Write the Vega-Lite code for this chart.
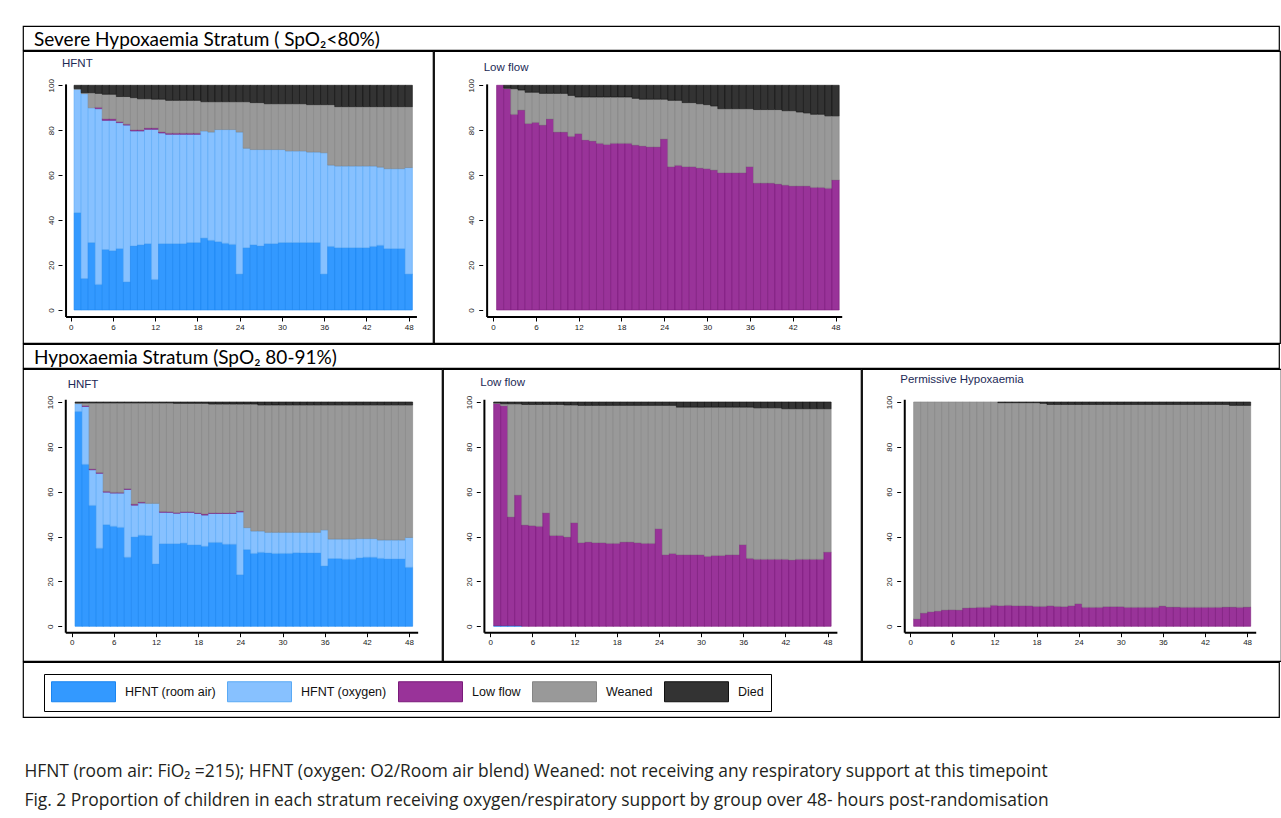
{
  "$schema": "https://vega.github.io/schema/vega-lite/v6.json",
  "padding": {"left": 22, "top": 25, "right": 3, "bottom": 0},
  "background": "white",
  "spacing": -2,
  "title": {
    "text": "HFNT (room air: FiO₂ =215); HFNT (oxygen: O2/Room air blend) Weaned: not receiving any respiratory support at this timepoint",
    "subtitle": "Fig. 2  Proportion of children in each stratum receiving oxygen/respiratory support by group over 48- hours post-randomisation",
    "orient": "bottom", "anchor": "start", "offset": 45, "dx": 2,
    "font": "Open Sans", "fontSize": 17.4, "fontWeight": "normal", "color": "#231f20",
    "subtitleFont": "Open Sans", "subtitleFontSize": 17.4, "subtitleColor": "#231f20", "subtitlePadding": 12
  },
  "datasets": {
    "p1": [
      {"h":1,"a":43.3,"b":54.9,"d":0.3,"e":1.5},
      {"h":2,"a":14,"b":82.3,"d":0.4,"e":3.3},
      {"h":3,"a":30,"b":60,"d":6.7,"e":3.3},
      {"h":4,"a":11.4,"b":78.2,"c":0.6,"d":6.2,"e":3.6},
      {"h":5,"a":26.9,"b":57.5,"c":0.7,"d":10.9,"e":4},
      {"h":6,"a":26.4,"b":58,"c":0.7,"d":10.9,"e":4},
      {"h":7,"a":27.3,"b":56.1,"c":0.4,"d":11.2,"e":5},
      {"h":8,"a":12.5,"b":69.8,"c":0.4,"d":12.3,"e":5},
      {"h":9,"a":28.5,"b":51.2,"c":0.5,"d":14.3,"e":5.5},
      {"h":10,"a":29,"b":50.7,"c":0.5,"d":13.8,"e":6},
      {"h":11,"a":29.5,"b":50.9,"c":0.6,"d":13,"e":6},
      {"h":12,"a":13.6,"b":66.8,"c":0.6,"d":12.8,"e":6.2},
      {"h":13,"a":29.5,"b":49.3,"c":0.5,"d":14.5,"e":6.2},
      {"h":14,"a":29.5,"b":48.7,"c":0.5,"d":14.6,"e":6.7},
      {"h":15,"a":29.5,"b":48.7,"c":0.5,"d":14.6,"e":6.7},
      {"h":16,"a":29.5,"b":48.7,"c":0.5,"d":14.6,"e":6.7},
      {"h":17,"a":30,"b":48.2,"c":0.5,"d":14.6,"e":6.7},
      {"h":18,"a":30,"b":48.2,"c":0.5,"d":14.6,"e":6.7},
      {"h":19,"a":32,"b":47.7,"d":13,"e":7.3},
      {"h":20,"a":31,"b":48.2,"d":13.5,"e":7.3},
      {"h":21,"a":30.4,"b":49.9,"d":12.4,"e":7.3},
      {"h":22,"a":29.7,"b":50.6,"d":12.4,"e":7.3},
      {"h":23,"a":29.2,"b":51.1,"d":12.4,"e":7.3},
      {"h":24,"a":16,"b":63.2,"d":13.5,"e":7.3},
      {"h":25,"a":27.7,"b":44.3,"d":20.7,"e":7.3},
      {"h":26,"a":29,"b":42.4,"d":20.9,"e":7.7},
      {"h":27,"a":28.5,"b":42.9,"d":20.9,"e":7.7},
      {"h":28,"a":29.5,"b":41.9,"d":20.4,"e":8.2},
      {"h":29,"a":29.5,"b":41.9,"d":20.4,"e":8.2},
      {"h":30,"a":30,"b":41.4,"d":20.4,"e":8.2},
      {"h":31,"a":30,"b":40.8,"d":21,"e":8.2},
      {"h":32,"a":30,"b":40.8,"d":21,"e":8.2},
      {"h":33,"a":30,"b":40.8,"d":21,"e":8.2},
      {"h":34,"a":30,"b":40.3,"d":21.1,"e":8.6},
      {"h":35,"a":30,"b":40.3,"d":21.1,"e":8.6},
      {"h":36,"a":16,"b":54,"d":21.4,"e":8.6},
      {"h":37,"a":28.3,"b":36.2,"d":26.9,"e":8.6},
      {"h":38,"a":27.7,"b":36.4,"d":26.4,"e":9.5},
      {"h":39,"a":27.7,"b":36.4,"d":26.4,"e":9.5},
      {"h":40,"a":27.7,"b":36.4,"d":26.4,"e":9.5},
      {"h":41,"a":27.7,"b":36.4,"d":26.4,"e":9.5},
      {"h":42,"a":27.7,"b":36.4,"d":26.4,"e":9.5},
      {"h":43,"a":28.3,"b":35.8,"d":26.4,"e":9.5},
      {"h":44,"a":28.8,"b":34.8,"d":26.9,"e":9.5},
      {"h":45,"a":27.3,"b":35.6,"d":27.6,"e":9.5},
      {"h":46,"a":27.3,"b":35.6,"d":27.6,"e":9.5},
      {"h":47,"a":27.3,"b":35.6,"d":27.6,"e":9.5},
      {"h":48,"a":16,"b":47.4,"d":27.1,"e":9.5}
    ],
    "p2": [
      {"h":1,"c":100},
      {"h":2,"c":98.5,"d":0.2,"e":1.3},
      {"h":3,"c":87.1,"d":11.4,"e":1.5},
      {"h":4,"c":89,"d":8.9,"e":2.1},
      {"h":5,"c":83,"d":13.9,"e":3.1},
      {"h":6,"c":83.5,"d":13.4,"e":3.1},
      {"h":7,"c":82.3,"d":14.1,"e":3.6},
      {"h":8,"c":85,"d":11.4,"e":3.6},
      {"h":9,"c":79.2,"d":17.2,"e":3.6},
      {"h":10,"c":79.2,"d":17.2,"e":3.6},
      {"h":11,"c":77.3,"d":18.2,"e":4.5},
      {"h":12,"c":78.5,"d":16.3,"e":5.2},
      {"h":13,"c":75.7,"d":19.1,"e":5.2},
      {"h":14,"c":75.2,"d":19.6,"e":5.2},
      {"h":15,"c":74.2,"d":20.6,"e":5.2},
      {"h":16,"c":73.7,"d":21.1,"e":5.2},
      {"h":17,"c":74.2,"d":20.6,"e":5.2},
      {"h":18,"c":74.2,"d":20.6,"e":5.2},
      {"h":19,"c":74.2,"d":20.6,"e":5.2},
      {"h":20,"c":73.4,"d":20.8,"e":5.8},
      {"h":21,"c":73,"d":20.8,"e":6.2},
      {"h":22,"c":72.6,"d":21.2,"e":6.2},
      {"h":23,"c":72.6,"d":21.2,"e":6.2},
      {"h":24,"c":76.1,"d":17.7,"e":6.2},
      {"h":25,"c":63.8,"d":29.5,"e":6.7},
      {"h":26,"c":64.4,"d":28.9,"e":6.7},
      {"h":27,"c":63.8,"d":28.5,"e":7.7},
      {"h":28,"c":63.8,"d":28.5,"e":7.7},
      {"h":29,"c":63.2,"d":28.6,"e":8.2},
      {"h":30,"c":62.9,"d":28.5,"e":8.6},
      {"h":31,"c":62.3,"d":28.5,"e":9.2},
      {"h":32,"c":61.1,"d":28.5,"e":10.4},
      {"h":33,"c":61.1,"d":28.5,"e":10.4},
      {"h":34,"c":61.1,"d":28.5,"e":10.4},
      {"h":35,"c":61.1,"d":28.5,"e":10.4},
      {"h":36,"c":63.8,"d":25.8,"e":10.4},
      {"h":37,"c":56.5,"d":32.7,"e":10.8},
      {"h":38,"c":56.5,"d":32.7,"e":10.8},
      {"h":39,"c":56.5,"d":32.7,"e":10.8},
      {"h":40,"c":56.1,"d":33.1,"e":10.8},
      {"h":41,"c":55.6,"d":33.1,"e":11.3},
      {"h":42,"c":55.2,"d":33.5,"e":11.3},
      {"h":43,"c":55.2,"d":32.9,"e":11.9},
      {"h":44,"c":55.2,"d":32.5,"e":12.3},
      {"h":45,"c":54.6,"d":32.5,"e":12.9},
      {"h":46,"c":54.6,"d":32.5,"e":12.9},
      {"h":47,"c":54.2,"d":32.2,"e":13.6},
      {"h":48,"c":57.9,"d":28.5,"e":13.6}
    ],
    "p3": [
      {"h":1,"a":95.8,"b":3.5,"d":0.3,"e":0.4},
      {"h":2,"a":72.2,"b":25.8,"c":0.4,"d":1.2,"e":0.4},
      {"h":3,"a":53.9,"b":15.9,"c":0.4,"d":29.4,"e":0.4},
      {"h":4,"a":34.8,"b":33.4,"c":0.4,"d":31,"e":0.4},
      {"h":5,"a":45.3,"b":14.5,"c":0.4,"d":39.4,"e":0.4},
      {"h":6,"a":44.6,"b":14.8,"c":0.3,"d":39.9,"e":0.4},
      {"h":7,"a":44.1,"b":15.3,"c":0.3,"d":39.9,"e":0.4},
      {"h":8,"a":30.8,"b":30.2,"c":0.4,"d":38.2,"e":0.4},
      {"h":9,"a":39.8,"b":14.2,"c":0.5,"d":45.1,"e":0.4},
      {"h":10,"a":40.6,"b":14.4,"c":0.4,"d":44.2,"e":0.4},
      {"h":11,"a":40.4,"b":14.4,"d":44.8,"e":0.4},
      {"h":12,"a":27.8,"b":27,"d":44.8,"e":0.4},
      {"h":13,"a":36.8,"b":14,"c":0.4,"d":48.4,"e":0.4},
      {"h":14,"a":36.8,"b":14,"c":0.3,"d":48.5,"e":0.4},
      {"h":15,"a":36.8,"b":13.6,"c":0.3,"d":48.7,"e":0.6},
      {"h":16,"a":37.1,"b":13.7,"c":0.3,"d":48.3,"e":0.6},
      {"h":17,"a":36.3,"b":14.5,"c":0.3,"d":48.3,"e":0.6},
      {"h":18,"a":36.3,"b":14,"c":0.3,"d":48.8,"e":0.6},
      {"h":19,"a":35.7,"b":13.9,"c":0.5,"d":49.3,"e":0.6},
      {"h":20,"a":37.4,"b":12.9,"c":0.3,"d":48.5,"e":0.9},
      {"h":21,"a":37.4,"b":12.9,"c":0.3,"d":48.5,"e":0.9},
      {"h":22,"a":36.6,"b":13.7,"c":0.3,"d":48.5,"e":0.9},
      {"h":23,"a":36.6,"b":13.7,"c":0.3,"d":48.5,"e":0.9},
      {"h":24,"a":23,"b":28,"c":0.4,"d":47.7,"e":0.9},
      {"h":25,"a":34.2,"b":9.8,"d":55.1,"e":0.9},
      {"h":26,"a":32.5,"b":10,"d":56.6,"e":0.9},
      {"h":27,"a":33,"b":9.5,"d":56.2,"e":1.3},
      {"h":28,"a":32.7,"b":9.2,"d":56.8,"e":1.3},
      {"h":29,"a":32.5,"b":9.4,"d":56.8,"e":1.3},
      {"h":30,"a":32.5,"b":9.4,"d":56.8,"e":1.3},
      {"h":31,"a":32.5,"b":9.4,"d":56.8,"e":1.3},
      {"h":32,"a":32.8,"b":9.1,"d":56.8,"e":1.3},
      {"h":33,"a":32.7,"b":9.2,"d":56.8,"e":1.3},
      {"h":34,"a":32.7,"b":9.2,"d":56.8,"e":1.3},
      {"h":35,"a":32.7,"b":9.2,"d":56.8,"e":1.3},
      {"h":36,"a":26.9,"b":16.1,"d":55.7,"e":1.3},
      {"h":37,"a":30.2,"b":8.7,"d":59.8,"e":1.3},
      {"h":38,"a":30.2,"b":8.7,"d":59.8,"e":1.3},
      {"h":39,"a":29.9,"b":9,"d":59.8,"e":1.3},
      {"h":40,"a":29.9,"b":9,"d":59.8,"e":1.3},
      {"h":41,"a":30.5,"b":8.6,"d":59.6,"e":1.3},
      {"h":42,"a":30.8,"b":8.3,"d":59.6,"e":1.3},
      {"h":43,"a":30.8,"b":8.3,"d":59.6,"e":1.3},
      {"h":44,"a":30.3,"b":8.2,"d":60.2,"e":1.3},
      {"h":45,"a":30,"b":8.5,"d":60.2,"e":1.3},
      {"h":46,"a":30,"b":8.5,"d":60.2,"e":1.3},
      {"h":47,"a":30,"b":8.5,"d":60.2,"e":1.3},
      {"h":48,"a":26.3,"b":13.3,"d":59.1,"e":1.3}
    ],
    "p4": [
      {"h":1,"a":0.3,"c":99,"d":0.3,"e":0.4},
      {"h":2,"a":0.3,"c":98,"d":0.9,"e":0.8},
      {"h":3,"a":0.3,"c":48.5,"d":50.4,"e":0.8},
      {"h":4,"a":0.3,"c":58.2,"d":40.7,"e":0.8},
      {"h":5,"c":45.2,"d":53.7,"e":1.1},
      {"h":6,"c":44.9,"d":54,"e":1.1},
      {"h":7,"c":44.6,"d":54.3,"e":1.1},
      {"h":8,"c":50.6,"d":48.3,"e":1.1},
      {"h":9,"c":40.5,"d":58.4,"e":1.1},
      {"h":10,"c":40.5,"d":58.4,"e":1.1},
      {"h":11,"c":39.8,"d":58.9,"e":1.3},
      {"h":12,"c":46.2,"d":52.5,"e":1.3},
      {"h":13,"c":37.3,"d":61.2,"e":1.5},
      {"h":14,"c":37.6,"d":60.9,"e":1.5},
      {"h":15,"c":37.3,"d":61.2,"e":1.5},
      {"h":16,"c":37.3,"d":61.2,"e":1.5},
      {"h":17,"c":37,"d":61.5,"e":1.5},
      {"h":18,"c":37,"d":61.5,"e":1.5},
      {"h":19,"c":37.6,"d":60.9,"e":1.5},
      {"h":20,"c":37.6,"d":60.9,"e":1.5},
      {"h":21,"c":37.3,"d":61.2,"e":1.5},
      {"h":22,"c":37,"d":61.5,"e":1.5},
      {"h":23,"c":37,"d":61.5,"e":1.5},
      {"h":24,"c":43.5,"d":55,"e":1.5},
      {"h":25,"c":31.9,"d":66.6,"e":1.5},
      {"h":26,"c":32.5,"d":66,"e":1.5},
      {"h":27,"c":31.9,"d":65.8,"e":2.3},
      {"h":28,"c":31.9,"d":65.8,"e":2.3},
      {"h":29,"c":31.9,"d":65.8,"e":2.3},
      {"h":30,"c":31.9,"d":65.8,"e":2.3},
      {"h":31,"c":31.2,"d":66.5,"e":2.3},
      {"h":32,"c":31.6,"d":66.1,"e":2.3},
      {"h":33,"c":31.6,"d":66.1,"e":2.3},
      {"h":34,"c":31.9,"d":65.8,"e":2.3},
      {"h":35,"c":31.9,"d":65.8,"e":2.3},
      {"h":36,"c":36.4,"d":61.3,"e":2.3},
      {"h":37,"c":30.3,"d":67.4,"e":2.3},
      {"h":38,"c":29.9,"d":67.5,"e":2.6},
      {"h":39,"c":29.9,"d":67.5,"e":2.6},
      {"h":40,"c":29.9,"d":67.5,"e":2.6},
      {"h":41,"c":29.9,"d":67.5,"e":2.6},
      {"h":42,"c":29.9,"d":67.1,"e":3},
      {"h":43,"c":29.6,"d":67.4,"e":3},
      {"h":44,"c":29.9,"d":67.1,"e":3},
      {"h":45,"c":29.9,"d":67.1,"e":3},
      {"h":46,"c":29.9,"d":67.1,"e":3},
      {"h":47,"c":29.9,"d":67.1,"e":3},
      {"h":48,"c":33.1,"d":63.9,"e":3}
    ],
    "p5": [
      {"h":1,"c":3.3,"d":96.7},
      {"h":2,"c":5.9,"d":94.1},
      {"h":3,"c":6.5,"d":93.5},
      {"h":4,"c":6.8,"d":93.2},
      {"h":5,"c":7.3,"d":92.7},
      {"h":6,"c":7.4,"d":92.6},
      {"h":7,"c":7.3,"d":92.7},
      {"h":8,"c":8.2,"d":91.8},
      {"h":9,"c":8.3,"d":91.7},
      {"h":10,"c":8.5,"d":91.5},
      {"h":11,"c":8.5,"d":91.5},
      {"h":12,"c":9.4,"d":90.6},
      {"h":13,"c":9.2,"d":90.5,"e":0.3},
      {"h":14,"c":9.4,"d":90.3,"e":0.3},
      {"h":15,"c":9.2,"d":90.5,"e":0.3},
      {"h":16,"c":9.2,"d":90.5,"e":0.3},
      {"h":17,"c":9.2,"d":90.5,"e":0.3},
      {"h":18,"c":8.9,"d":90.8,"e":0.3},
      {"h":19,"c":8.9,"d":90.5,"e":0.6},
      {"h":20,"c":9.2,"d":89.7,"e":1.1},
      {"h":21,"c":8.9,"d":90,"e":1.1},
      {"h":22,"c":8.8,"d":90.1,"e":1.1},
      {"h":23,"c":9.2,"d":89.7,"e":1.1},
      {"h":24,"c":10.1,"d":88.8,"e":1.1},
      {"h":25,"c":8.5,"d":90.4,"e":1.1},
      {"h":26,"c":8.5,"d":90.4,"e":1.1},
      {"h":27,"c":8.5,"d":90.4,"e":1.1},
      {"h":28,"c":8.8,"d":90.1,"e":1.1},
      {"h":29,"c":8.8,"d":90.1,"e":1.1},
      {"h":30,"c":8.8,"d":90.1,"e":1.1},
      {"h":31,"c":8.5,"d":90.4,"e":1.1},
      {"h":32,"c":8.5,"d":90.4,"e":1.1},
      {"h":33,"c":8.5,"d":90.4,"e":1.1},
      {"h":34,"c":8.5,"d":90.4,"e":1.1},
      {"h":35,"c":8.5,"d":90.4,"e":1.1},
      {"h":36,"c":9.1,"d":89.8,"e":1.1},
      {"h":37,"c":8.6,"d":90.3,"e":1.1},
      {"h":38,"c":8.6,"d":90.3,"e":1.1},
      {"h":39,"c":8.5,"d":90.4,"e":1.1},
      {"h":40,"c":8.5,"d":90.4,"e":1.1},
      {"h":41,"c":8.5,"d":90.4,"e":1.1},
      {"h":42,"c":8.5,"d":90.4,"e":1.1},
      {"h":43,"c":8.5,"d":90.4,"e":1.1},
      {"h":44,"c":8.5,"d":90.4,"e":1.1},
      {"h":45,"c":8.6,"d":90.3,"e":1.1},
      {"h":46,"c":8.6,"d":89.9,"e":1.5},
      {"h":47,"c":8.5,"d":90,"e":1.5},
      {"h":48,"c":8.6,"d":89.9,"e":1.5}
    ]
  },
  "vconcat": [
    {
      "width": 1256, "height": 24,
      "data": {"values": [{}]},
      "mark": {"type": "text", "baseline": "middle", "fontSize": 1},
      "encoding": {
        "x": {"datum": 0.5, "type": "quantitative", "scale": {"domain": [0, 1]}, "axis": null},
        "y": {"datum": 0.5, "type": "quantitative", "scale": {"domain": [0, 1]}, "axis": null},
        "text": {"value": ""}
      },
      "title": {"text": "Severe Hypoxaemia Stratum ( SpO₂<80%)", "anchor": "start", "orient": "top", "offset": -39, "dx": 11, "font": "Lato", "fontSize": 19, "fontWeight": "normal", "color": "#000000", "baseline": "alphabetic"}
    },
    {
      "spacing": -2,
      "hconcat": [
        {
          "width": 410, "height": 292,
          "data": {"name": "p1"},
          "title": {"text": "HFNT", "anchor": "start", "offset": -27.5, "dx": 39, "font": "Liberation Sans", "fontSize": 11.5, "fontWeight": "normal", "color": "#1c2a56", "baseline": "alphabetic"},
          "layer": [
            {
              "transform": [{"fold": ["a","b","c","d","e"], "as": ["cat","v"]}, {"filter": "datum.v > 0"}],
              "mark": {"type": "bar", "width": 7.22, "strokeWidth": 0.6},
              "encoding": {
                "x": {"field": "h", "type": "quantitative", "scale": {"domain": [-6.05, 50.73], "nice": false, "zero": false},
                      "axis": {"values": [0,6,12,18,24,30,36,42,48], "offset": -26, "title": null, "labelFlush": false}},
                "y": {"field": "v", "type": "quantitative", "stack": "zero", "scale": {"domain": [-14.69, 115.26], "nice": false, "zero": false},
                      "axis": {"values": [0,20,40,60,80,100], "offset": -39, "title": null}},
                "color": {"field": "cat", "type": "nominal", "scale": {"domain": ["a","b","c","d","e"], "range": ["#3399ff","#87c1ff","#993399","#999999","#333333"]},
                          "legend": {"title": null, "orient": "none", "legendX": 21, "legendY": 648, "direction": "horizontal", "columns": 5,
                                     "labelExpr": "datum.label == 'a' ? 'HFNT (room air)' : datum.label == 'b' ? 'HFNT (oxygen)' : datum.label == 'c' ? 'Low flow' : datum.label == 'd' ? 'Weaned' : 'Died'"}},
                "stroke": {"field": "cat", "type": "nominal", "scale": {"domain": ["a","b","c","d","e"], "range": ["#1a85f0","#5aaaf5","#7a1a7a","#858585","#111111"]},
                          "legend": {"title": null, "orient": "none", "legendX": 21, "legendY": 648, "direction": "horizontal", "columns": 5,
                                     "labelExpr": "datum.label == 'a' ? 'HFNT (room air)' : datum.label == 'b' ? 'HFNT (oxygen)' : datum.label == 'c' ? 'Low flow' : datum.label == 'd' ? 'Weaned' : 'Died'"}},
                "order": {"field": "cat", "sort": "ascending"}
              }
            },
            {"data": {"values": [{}]}, "mark": {"type": "rule", "strokeWidth": 2, "color": "#000000"},
             "encoding": {"x": {"datum": -0.65}, "x2": {"datum": 49.16}, "y": {"datum": -3.12}}},
            {"data": {"values": [{}]}, "mark": {"type": "rule", "strokeWidth": 2, "color": "#000000"},
             "encoding": {"x": {"datum": -0.65}, "y": {"datum": -3.12}, "y2": {"datum": 100.4}}}
          ]
        },
        {
          "width": 846, "height": 292,
          "data": {"name": "p2"},
          "title": {"text": "Low flow", "anchor": "start", "offset": -31.5, "dx": 49.7, "font": "Liberation Sans", "fontSize": 11.5, "fontWeight": "normal", "color": "#1c2a56", "baseline": "alphabetic"},
          "layer": [
            {
              "transform": [{"fold": ["a","b","c","d","e"], "as": ["cat","v"]}, {"filter": "datum.v > 0"}],
              "mark": {"type": "bar", "width": 7.22, "strokeWidth": 0.6},
              "encoding": {
                "x": {"field": "h", "type": "quantitative", "scale": {"domain": [-7.575, 109.58], "nice": false, "zero": false},
                      "axis": {"values": [0,6,12,18,24,30,36,42,48], "offset": -26, "title": null, "labelFlush": false}},
                "y": {"field": "v", "type": "quantitative", "stack": "zero", "scale": {"domain": [-14.69, 115.26], "nice": false, "zero": false},
                      "axis": {"values": [0,20,40,60,80,100], "offset": -48.7, "title": null}},
                "color": {"field": "cat", "type": "nominal", "scale": {"domain": ["a","b","c","d","e"], "range": ["#3399ff","#87c1ff","#993399","#999999","#333333"]}},
                "stroke": {"field": "cat", "type": "nominal", "scale": {"domain": ["a","b","c","d","e"], "range": ["#1a85f0","#5aaaf5","#7a1a7a","#858585","#111111"]}},
                "order": {"field": "cat", "sort": "ascending"}
              }
            },
            {"data": {"values": [{}]}, "mark": {"type": "rule", "strokeWidth": 2, "color": "#000000"},
             "encoding": {"x": {"datum": -0.83}, "x2": {"datum": 48.93}, "y": {"datum": -3.12}}},
            {"data": {"values": [{}]}, "mark": {"type": "rule", "strokeWidth": 2, "color": "#000000"},
             "encoding": {"x": {"datum": -0.83}, "y": {"datum": -3.12}, "y2": {"datum": 100.4}}}
          ]
        }
      ]
    },
    {
      "width": 1256, "height": 24,
      "data": {"values": [{}]},
      "mark": {"type": "text", "baseline": "middle", "fontSize": 1},
      "encoding": {
        "x": {"datum": 0.5, "type": "quantitative", "scale": {"domain": [0, 1]}, "axis": null},
        "y": {"datum": 0.5, "type": "quantitative", "scale": {"domain": [0, 1]}, "axis": null},
        "text": {"value": ""}
      },
      "title": {"text": "Hypoxaemia Stratum (SpO₂ 80-91%)", "anchor": "start", "orient": "top", "offset": -38.5, "dx": 11, "font": "Lato", "fontSize": 19, "fontWeight": "normal", "color": "#000000", "baseline": "alphabetic"}
    },
    {
      "spacing": -2,
      "hconcat": [
        {
          "width": 419, "height": 292,
          "data": {"name": "p3"},
          "title": {"text": "HNFT", "anchor": "start", "offset": -30.5, "dx": 44.7, "font": "Liberation Sans", "fontSize": 11.5, "fontWeight": "normal", "color": "#1c2a56", "baseline": "alphabetic"},
          "layer": [
            {
              "transform": [{"fold": ["a","b","c","d","e"], "as": ["cat","v"]}, {"filter": "datum.v > 0"}],
              "mark": {"type": "bar", "width": 7.2, "strokeWidth": 0.6},
              "encoding": {
                "x": {"field": "h", "type": "quantitative", "scale": {"domain": [-6.21, 51.98], "nice": false, "zero": false},
                      "axis": {"values": [0,6,12,18,24,30,36,42,48], "offset": -28.3, "title": null, "labelFlush": false}},
                "y": {"field": "v", "type": "quantitative", "stack": "zero", "scale": {"domain": [-15.47, 114.71], "nice": false, "zero": false},
                      "axis": {"values": [0,20,40,60,80,100], "offset": -38.7, "title": null}},
                "color": {"field": "cat", "type": "nominal", "scale": {"domain": ["a","b","c","d","e"], "range": ["#3399ff","#87c1ff","#993399","#999999","#333333"]}},
                "stroke": {"field": "cat", "type": "nominal", "scale": {"domain": ["a","b","c","d","e"], "range": ["#1a85f0","#5aaaf5","#7a1a7a","#858585","#111111"]}},
                "order": {"field": "cat", "sort": "ascending"}
              }
            },
            {"data": {"values": [{}]}, "mark": {"type": "rule", "strokeWidth": 2, "color": "#000000"},
             "encoding": {"x": {"datum": -0.835}, "x2": {"datum": 49.3}, "y": {"datum": -2.86}}},
            {"data": {"values": [{}]}, "mark": {"type": "rule", "strokeWidth": 2, "color": "#000000"},
             "encoding": {"x": {"datum": -0.835}, "y": {"datum": -2.86}, "y2": {"datum": 101}}}
          ]
        },
        {
          "width": 418, "height": 292,
          "data": {"name": "p4"},
          "title": {"text": "Low flow", "anchor": "start", "offset": -28.5, "dx": 37.3, "font": "Liberation Sans", "fontSize": 11.5, "fontWeight": "normal", "color": "#1c2a56", "baseline": "alphabetic"},
          "layer": [
            {
              "transform": [{"fold": ["a","b","c","d","e"], "as": ["cat","v"]}, {"filter": "datum.v > 0"}],
              "mark": {"type": "bar", "width": 7.2, "strokeWidth": 0.6},
              "encoding": {
                "x": {"field": "h", "type": "quantitative", "scale": {"domain": [-6.01, 52.05], "nice": false, "zero": false},
                      "axis": {"values": [0,6,12,18,24,30,36,42,48], "offset": -28.3, "title": null, "labelFlush": false}},
                "y": {"field": "v", "type": "quantitative", "stack": "zero", "scale": {"domain": [-15.47, 114.71], "nice": false, "zero": false},
                      "axis": {"values": [0,20,40,60,80,100], "offset": -37.3, "title": null}},
                "color": {"field": "cat", "type": "nominal", "scale": {"domain": ["a","b","c","d","e"], "range": ["#3399ff","#87c1ff","#993399","#999999","#333333"]}},
                "stroke": {"field": "cat", "type": "nominal", "scale": {"domain": ["a","b","c","d","e"], "range": ["#1a85f0","#5aaaf5","#7a1a7a","#858585","#111111"]}},
                "order": {"field": "cat", "sort": "ascending"}
              }
            },
            {"data": {"values": [{}]}, "mark": {"type": "rule", "strokeWidth": 2, "color": "#000000"},
             "encoding": {"x": {"datum": -0.83}, "x2": {"datum": 49.4}, "y": {"datum": -2.86}}},
            {"data": {"values": [{}]}, "mark": {"type": "rule", "strokeWidth": 2, "color": "#000000"},
             "encoding": {"x": {"datum": -0.83}, "y": {"datum": -2.86}, "y2": {"datum": 101}}}
          ]
        },
        {
          "width": 419, "height": 292,
          "data": {"name": "p5"},
          "title": {"text": "Permissive Hypoxaemia", "anchor": "start", "offset": -25.5, "dx": 38.3, "font": "Liberation Sans", "fontSize": 11.5, "fontWeight": "normal", "color": "#1c2a56", "baseline": "alphabetic"},
          "layer": [
            {
              "transform": [{"fold": ["a","b","c","d","e"], "as": ["cat","v"]}, {"filter": "datum.v > 0"}],
              "mark": {"type": "bar", "width": 7.19, "strokeWidth": 0.6},
              "encoding": {
                "x": {"field": "h", "type": "quantitative", "scale": {"domain": [-6.16, 52.12], "nice": false, "zero": false},
                      "axis": {"values": [0,6,12,18,24,30,36,42,48], "offset": -28.3, "title": null, "labelFlush": false}},
                "y": {"field": "v", "type": "quantitative", "stack": "zero", "scale": {"domain": [-15.47, 114.71], "nice": false, "zero": false},
                      "axis": {"values": [0,20,40,60,80,100], "offset": -38.7, "title": null}},
                "color": {"field": "cat", "type": "nominal", "scale": {"domain": ["a","b","c","d","e"], "range": ["#3399ff","#87c1ff","#993399","#999999","#333333"]}},
                "stroke": {"field": "cat", "type": "nominal", "scale": {"domain": ["a","b","c","d","e"], "range": ["#1a85f0","#5aaaf5","#7a1a7a","#858585","#111111"]}},
                "order": {"field": "cat", "sort": "ascending"}
              }
            },
            {"data": {"values": [{}]}, "mark": {"type": "rule", "strokeWidth": 2, "color": "#000000"},
             "encoding": {"x": {"datum": -0.78}, "x2": {"datum": 49.3}, "y": {"datum": -2.86}}},
            {"data": {"values": [{}]}, "mark": {"type": "rule", "strokeWidth": 2, "color": "#000000"},
             "encoding": {"x": {"datum": -0.78}, "y": {"datum": -2.86}, "y2": {"datum": 101}}}
          ]
        }
      ]
    },
    {
      "width": 1256, "height": 55,
      "data": {"values": [{}]},
      "mark": {"type": "text", "baseline": "middle", "fontSize": 1},
      "encoding": {
        "x": {"datum": 0.5, "type": "quantitative", "scale": {"domain": [0, 1]}, "axis": null},
        "y": {"datum": 0.5, "type": "quantitative", "scale": {"domain": [0, 1]}, "axis": null},
        "text": {"value": ""}
      }
    }
  ],
  "resolve": {"scale": {"color": "shared", "stroke": "shared"}},
  "config": {
    "view": {"stroke": "#000000", "strokeWidth": 1.2},
    "concat": {"spacing": -2},
    "font": "Liberation Sans",
    "axis": {"domain": false, "grid": false, "tickSize": 4, "tickColor": "#000000", "tickWidth": 1, "labelFontSize": 8, "labelColor": "#222222", "labelFont": "Liberation Sans"},
    "axisY": {"labelAngle": -90, "labelAlign": "center", "labelBaseline": "bottom", "labelPadding": 3},
    "axisX": {"labelPadding": 2},
    "legend": {
      "symbolType": "M-1,-1H5.4V1H-1Z", "symbolSize": 400, "symbolStrokeWidth": 1, "symbolOpacity": 1,
      "labelFont": "Liberation Sans", "labelFontSize": 12.5, "labelColor": "#111111", "labelOffset": 53, "labelLimit": 250,
      "columnPadding": 9, "padding": 7, "strokeColor": "#000000", "fillColor": "#ffffff"
    }
  }
}
